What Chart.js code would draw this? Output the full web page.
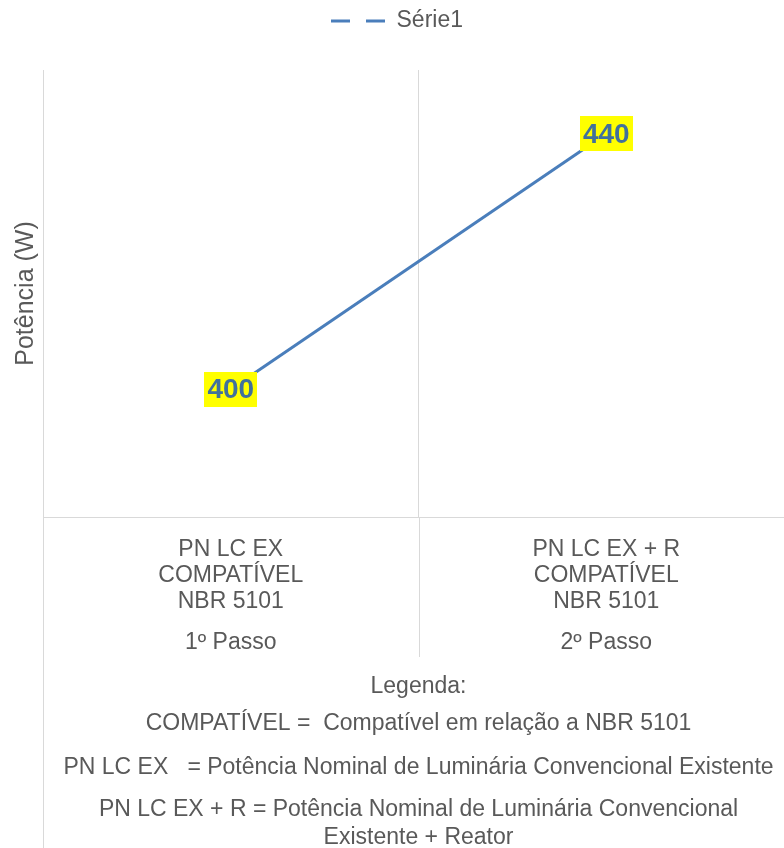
<!DOCTYPE html>
<html><head><meta charset="utf-8">
<script src="https://cdn.jsdelivr.net/npm/chart.js@4.4.0/dist/chart.umd.min.js"></script>
<style>
html,body{margin:0;padding:0;background:#fff;overflow:hidden;width:784px;height:848px}
#wrap{width:794px;height:848px}
</style></head>
<body><div id="wrap"><canvas id="c" width="794" height="848"></canvas></div>
<script>
const categories = [["PN LC EX", "COMPATÍVEL", "NBR 5101"], ["PN LC EX + R", "COMPATÍVEL", "NBR 5101"]];
const steps = ["1º Passo", "2º Passo"];
const seriesName = "Série1";
const values = [400, 440];
const yTitle = "Potência (W)";
const yMin = 380;
const yMax = 450;
const notes = [
  "Legenda:",
  "COMPATÍVEL =  Compatível em relação a NBR 5101",
  "PN LC EX   = Potência Nominal de Luminária Convencional Existente",
  "PN LC EX + R = Potência Nominal de Luminária Convencional",
  "Existente + Reator"
];

const FONT = "'Liberation Sans', Arial, sans-serif";
const GRAY = '#595959';
const GRID = '#D9D9D9';
const LINE = '#4A7EBB';
const LABEL = '#41719C';

const sepPlugin = {
  id: 'sep',
  afterDraw(chart) {
    const ctx = chart.ctx, ca = chart.chartArea, x = chart.scales.x;
    const mid = Math.round((x.getPixelForValue(0) + x.getPixelForValue(1)) / 2) + 0.5;
    const left = Math.round(ca.left) + 0.5;
    ctx.save();
    ctx.strokeStyle = GRID; ctx.lineWidth = 1;
    ctx.beginPath();
    ctx.moveTo(left, ca.top); ctx.lineTo(left, chart.height);
    ctx.moveTo(mid, ca.bottom); ctx.lineTo(mid, x.bottom + 22);
    ctx.stroke();
    ctx.restore();
  }
};

const labelPlugin = {
  id: 'dlabels',
  afterDatasetsDraw(chart) {
    const ctx = chart.ctx;
    const meta = chart.getDatasetMeta(0);
    ctx.save();
    ctx.font = "bold 28px " + FONT;
    ctx.textAlign = 'center';
    ctx.textBaseline = 'middle';
    meta.data.forEach((pt, i) => {
      const txt = String(chart.data.datasets[0].data[i]);
      const w = ctx.measureText(txt).width + 6;
      const h = 35;
      ctx.fillStyle = '#FFFF00';
      ctx.fillRect(Math.round(pt.x - w / 2), Math.round(pt.y - h / 2), Math.round(w), h);
      ctx.fillStyle = LABEL;
      ctx.fillText(txt, pt.x, pt.y + 1);
    });
    ctx.restore();
  }
};

const notesPlugin = {
  id: 'notes',
  afterDraw(chart) {
    const ctx = chart.ctx, ca = chart.chartArea, x = chart.scales.x;
    const offs = [52, 89, 133, 175, 203];
    const cx = (ca.left + ca.right) / 2;
    ctx.save();
    ctx.font = "23px " + FONT;
    ctx.fillStyle = GRAY;
    ctx.textAlign = 'center';
    ctx.textBaseline = 'middle';
    steps.forEach((t, i) => ctx.fillText(t, x.getPixelForValue(i), x.bottom + 8));
    notes.forEach((t, i) => ctx.fillText(t, cx, x.bottom + offs[i]));
    ctx.restore();
  }
};

new Chart(document.getElementById('c'), {
  type: 'line',
  data: {
    labels: categories,
    datasets: [{
      label: seriesName,
      data: values,
      borderColor: LINE,
      backgroundColor: LINE,
      borderWidth: 3,
      pointRadius: 0,
      tension: 0,
      fill: false
    }]
  },
  options: {
    responsive: false,
    animation: false,
    layout: { padding: { top: 0, left: 0, right: 0, bottom: 213 } },
    plugins: {
      tooltip: { enabled: false },
      legend: {
        position: 'top',
        labels: {
          usePointStyle: true,
          pointStyleWidth: 54,
          padding: 9.5,
          color: GRAY,
          font: { family: FONT, size: 23 },
          generateLabels: () => [{
            text: seriesName, fillStyle: 'rgba(0,0,0,0)', strokeStyle: LINE,
            lineWidth: 3, lineDash: [19, 16], pointStyle: 'line', fontColor: GRAY,
            datasetIndex: 0, hidden: false
          }]
        }
      },
      title: {
        display: true, text: '', weight: 500,
        font: { size: 1, lineHeight: 1 },
        padding: { top: 0, bottom: 26.5 }
      }
    },
    scales: {
      x: {
        type: 'category',
        position: 'bottom',
        offset: true,
        grid: { offset: true, color: GRID, drawTicks: false, drawOnChartArea: true },
        border: { display: true, color: GRID },
        ticks: { color: GRAY, font: { family: FONT, size: 23, lineHeight: 1.1304 }, padding: 20, maxRotation: 0, autoSkip: false }
      },
      y: {
        min: yMin, max: yMax,
        ticks: { display: false },
        grid: { display: false, drawTicks: false },
        border: { display: true, color: GRID },
        title: {
          display: true, text: yTitle, color: GRAY,
          font: { family: FONT, size: 25, lineHeight: 1.2 },
          padding: { top: 11, bottom: 2 }
        }
      }
    }
  },
  plugins: [sepPlugin, labelPlugin, notesPlugin]
});
</script>
</body></html>
